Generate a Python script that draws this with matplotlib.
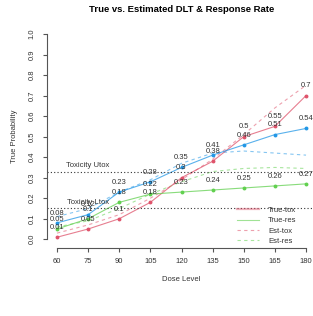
import matplotlib
matplotlib.use('Agg')
import matplotlib.pyplot as plt
from matplotlib.lines import Line2D

plt.rcParams['font.family'] = ['Liberation Sans', 'DejaVu Sans']

doses = [60, 75, 90, 105, 120, 135, 150, 165, 180]
true_tox = [0.01, 0.05, 0.1, 0.18, 0.3, 0.38, 0.5, 0.55, 0.7]
true_res = [0.05, 0.1, 0.18, 0.22, 0.23, 0.24, 0.25, 0.26, 0.27]
true_eff = [0.08, 0.12, 0.23, 0.28, 0.35, 0.41, 0.46, 0.51, 0.54]
est_tox = [0.03, 0.07, 0.12, 0.2, 0.29, 0.39, 0.51, 0.64, 0.75]
est_res = [0.06, 0.09, 0.15, 0.22, 0.28, 0.33, 0.345, 0.35, 0.345]
est_eff = [0.11, 0.15, 0.23, 0.29, 0.37, 0.42, 0.43, 0.42, 0.41]
utox = 0.33
ltox = 0.15

red = '#DF536B'
green = '#61D04F'
blue = '#2297E6'
fs = 5.5

fig = plt.figure(figsize=(3.13, 3.16), dpi=100)
ax = fig.add_axes([47 / 313, 1 - 247.5 / 316, 269 / 313, (247.5 - 25.8) / 316])
ax.set_xlim(55.2, 184.8)
ax.set_ylim(-0.04, 1.04)

# estimated curves (dashed)
ax.plot(doses, est_tox, color=red, alpha=0.55, lw=0.8, ls=(0, (3, 3)))
ax.plot(doses, est_res, color=green, alpha=0.55, lw=0.8, ls=(0, (3, 3)))
ax.plot(doses, est_eff, color=blue, alpha=0.55, lw=0.8, ls=(0, (3, 3)))
# true curves with points
ax.plot(doses, true_tox, color=red, alpha=0.75, lw=0.8)
ax.plot(doses, true_res, color=green, alpha=0.75, lw=0.8)
ax.plot(doses, true_eff, color=blue, alpha=0.75, lw=0.8)
ax.plot(doses, true_tox, 'o', color=red, ms=2.8, mew=0)
ax.plot(doses, true_res, 'o', color=green, ms=2.8, mew=0)
ax.plot(doses, true_eff, 'o', color=blue, ms=2.8, mew=0)

for vals in [true_tox, true_res, true_eff]:
    for d, v in zip(doses, vals):
        ax.annotate(f'{v:g}', (d, v), xytext=(0, 7), textcoords='offset points',
                    ha='center', va='center', fontsize=fs, color='#333333')

ax.axhline(utox, color='#333333', lw=0.8, ls=(0, (1, 2)))
ax.axhline(ltox, color='#333333', lw=0.8, ls=(0, (1, 2)))
ax.annotate('Toxicity Utox', (75, utox), xytext=(0, 4.5), textcoords='offset points',
            ha='center', va='center', fontsize=fs, color='#333333')
ax.annotate('Toxicity Ltox', (75, ltox), xytext=(0, 4.5), textcoords='offset points',
            ha='center', va='center', fontsize=fs, color='#333333')

handles = [
    Line2D([], [], color=red, alpha=0.45, lw=1.6),
    Line2D([], [], color=green, alpha=0.6, lw=0.8),
    Line2D([], [], color=red, alpha=0.55, lw=0.8, ls=(0, (3, 3))),
    Line2D([], [], color=green, alpha=0.55, lw=0.8, ls=(0, (3, 3))),
]
ax.legend(handles, ['True-tox', 'True-res', 'Est-tox', 'Est-res'], frameon=False,
          fontsize=fs, loc='upper left', bbox_to_anchor=(233 / 313, 1 - 203 / 316),
          bbox_transform=fig.transFigure, handlelength=2.9, handletextpad=1.2,
          labelspacing=0.38, borderpad=0, labelcolor='#333333')

for s in ['top', 'right']:
    ax.spines[s].set_visible(False)
ax.spines['left'].set_bounds(0, 1)
ax.spines['bottom'].set_bounds(60, 180)
for s in ['left', 'bottom']:
    ax.spines[s].set_color('#555555')
    ax.spines[s].set_linewidth(0.8)

ax.set_xticks(doses)
ax.set_yticks([i / 10 for i in range(11)])
ax.set_yticklabels([f'{i / 10:.1f}' for i in range(11)], rotation=90, va='center')
ax.tick_params(direction='out', length=3, width=0.8, color='#555555',
               labelsize=fs, labelcolor='#333333')
ax.tick_params(axis='x', pad=4.5)
ax.tick_params(axis='y', pad=5)

ax.set_xlabel('Dose Level', fontsize=fs, color='#333333', labelpad=8)
ax.set_ylabel('True Probability', fontsize=fs, color='#333333', labelpad=8)
ax.set_title('True vs. Estimated DLT & Response Rate', fontsize=6.8,
             fontweight='bold', pad=10)

fig.savefig('out.png', dpi=100)
